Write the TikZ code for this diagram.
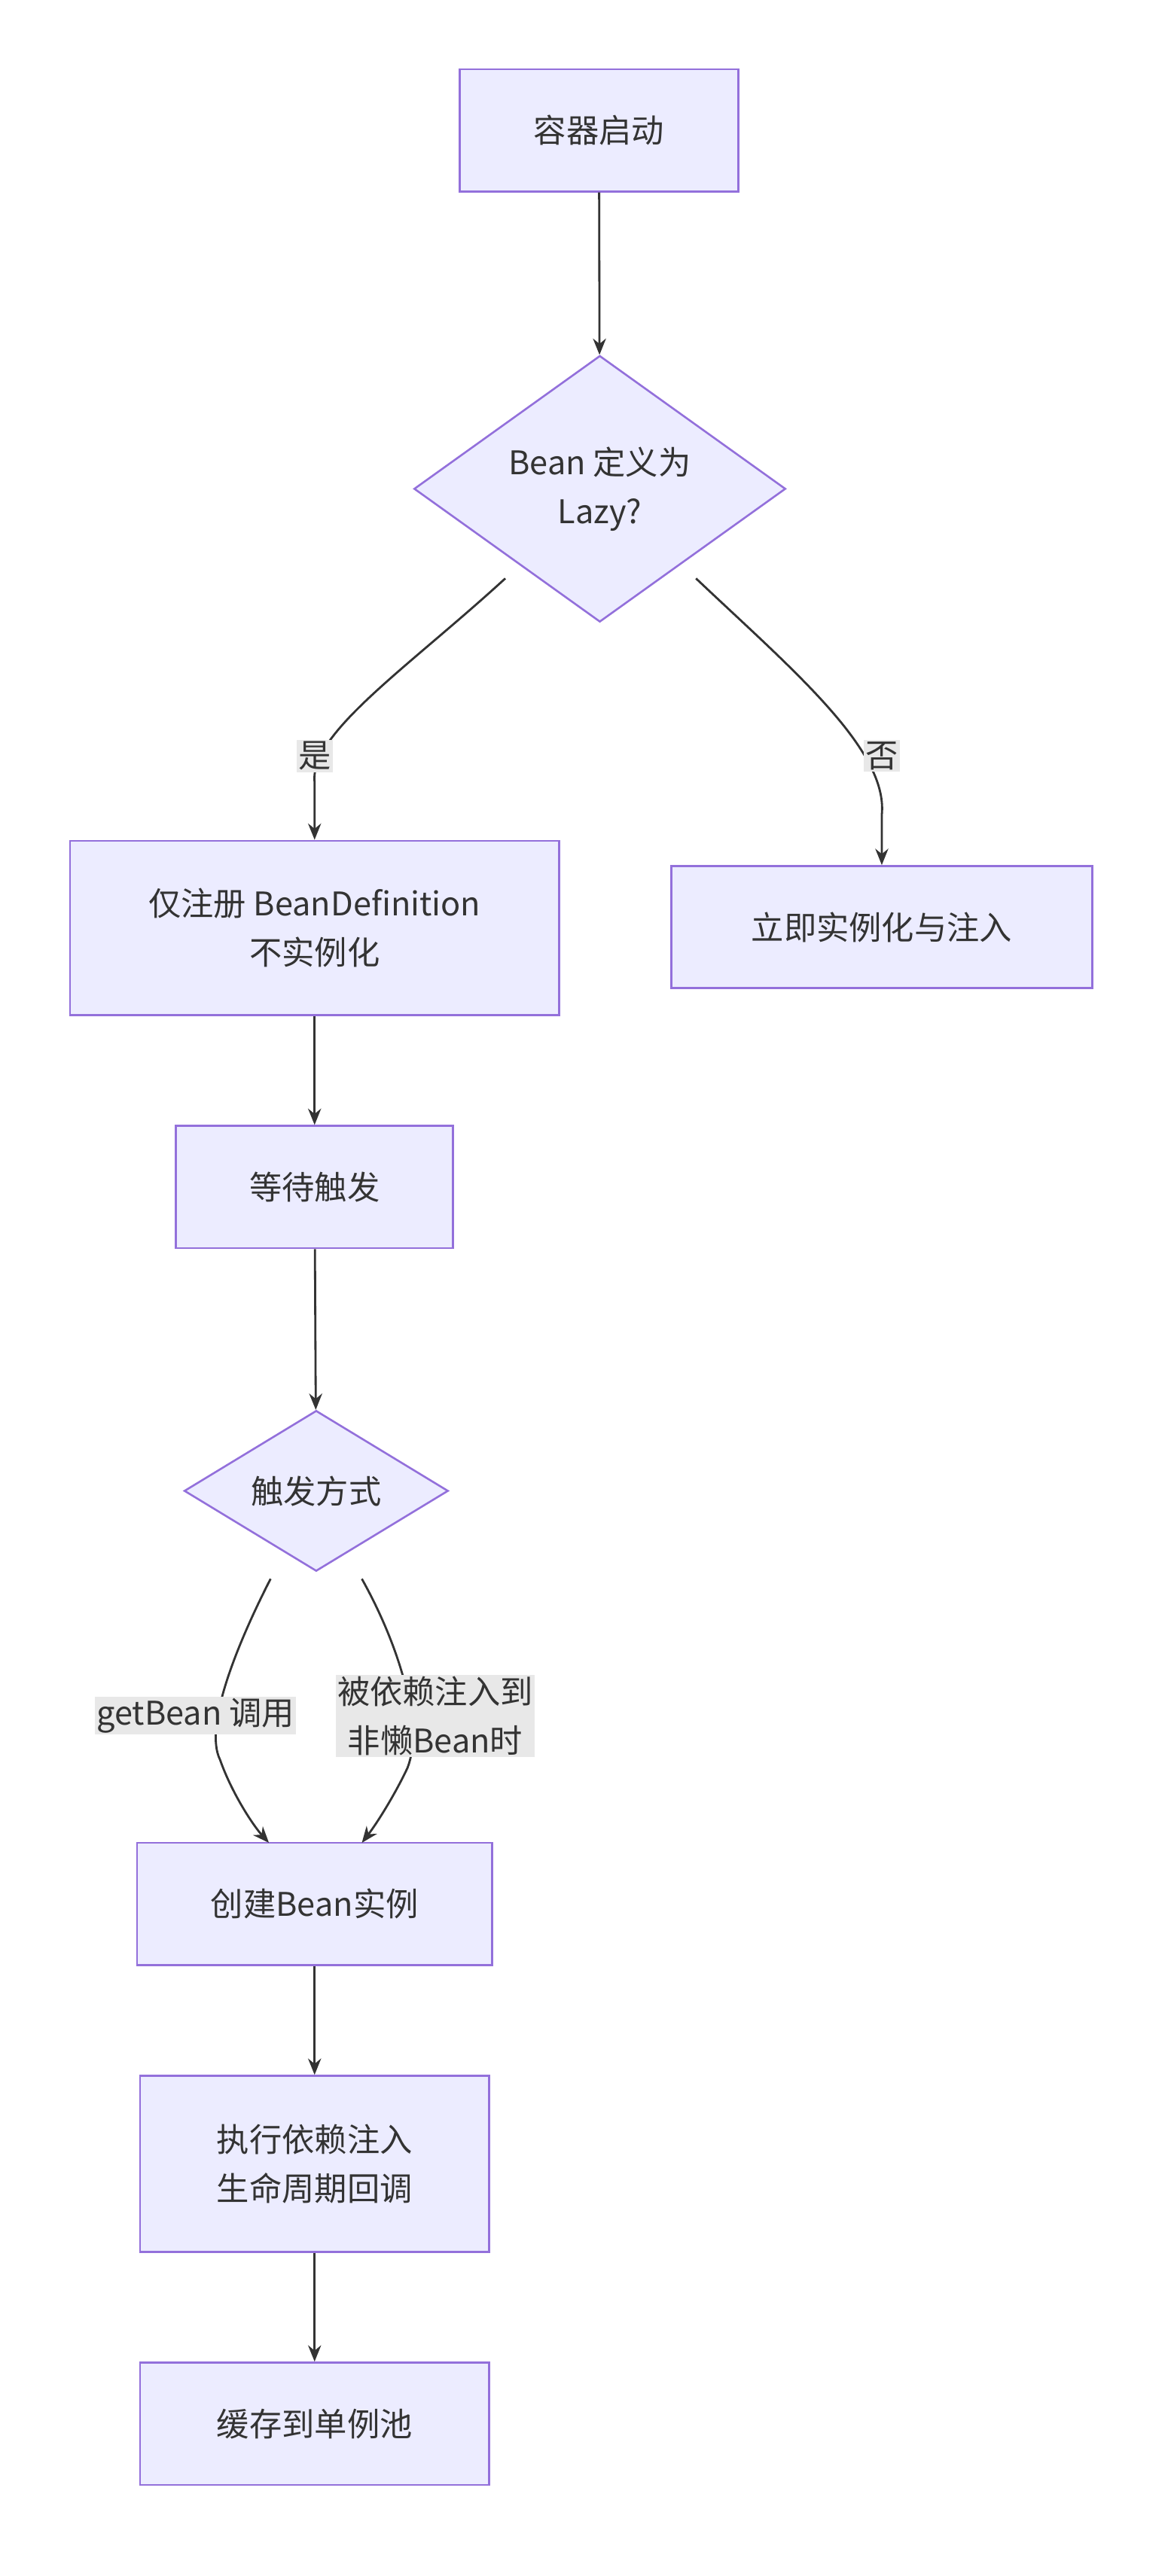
\documentclass[tikz,border=0pt]{standalone}
\usepackage{fontspec}
\setmainfont{Noto Sans CJK SC}
\usetikzlibrary{shapes.geometric,arrows.meta}
\definecolor{nfill}{HTML}{ECECFF}
\definecolor{nline}{HTML}{9370DB}
\definecolor{txt}{HTML}{333333}
\definecolor{lbg}{HTML}{E8E8E8}
\begin{document}
\begin{tikzpicture}[x=1pt,y=-1pt,
  every node/.style={font=\fontsize{20}{30}\selectfont,text=txt},
  box/.style={draw=nline,fill=nfill,line width=1.2pt,minimum height=75pt,align=center,inner sep=0pt},
  dia/.style={draw=nline,fill=nfill,line width=1.2pt,diamond,aspect=1,align=center,inner sep=0pt},
  arr/.style={draw=txt,line width=1.3pt,-{Stealth[length=10pt,width=8pt]}},
  lbl/.style={fill=lbg,inner sep=1pt,align=center}]
\useasboundingbox (0,0) rectangle (720,1581);
\node[box,minimum width=171pt] (start) at (367.5,80) {容器启动};
\node[dia,minimum width=228pt] (d1) at (368,300) {Bean 定义为\\Lazy?};
\node[box,minimum width=300pt,minimum height=107pt] (lazy) at (193,569.5) {仅注册 BeanDefinition\\不实例化};
\node[box,minimum width=258pt] (now) at (541,569) {立即实例化与注入};
\node[box,minimum width=170pt] (wait) at (193,728.5) {等待触发};
\node[dia,minimum width=162pt] (d2) at (194,915) {触发方式};
\node[box,minimum width=218pt] (create) at (193,1168.5) {创建Bean实例};
\node[box,minimum width=214pt,minimum height=108pt] (exec) at (193,1328) {执行依赖注入\\生命周期回调};
\node[box,minimum width=214pt] (cache) at (193,1487.5) {缓存到单例池};
\coordinate (c1) at (310,355);
\coordinate (c2) at (427,355);
\coordinate (c3) at (166,969);
\coordinate (c4) at (222,969);
\draw[arr] (start) -- (d1);
\draw[arr] (c1) .. controls (250,410) and (190,450) .. (193,480) -- (lazy.north);
\draw[arr] (c2) .. controls (485,410) and (545,460) .. (541,500) -- (now.north);
\node[lbl] (l1) at (193,464) {是};
\node[lbl] (l2) at (541,464) {否};
\draw[arr] (lazy) -- (wait);
\draw[arr] (wait) -- (d2);
\draw[arr] (c3) .. controls (145,1010) and (125,1060) .. (135,1080) .. controls (142,1100) and (155,1120) .. (165,1131);
\draw[arr] (c4) .. controls (245,1010) and (260,1060) .. (250,1085) .. controls (243,1100) and (232,1118) .. (222,1131);
\node[lbl] (l3) at (120,1053) {getBean 调用};
\node[lbl] (l4) at (267,1053) {被依赖注入到\\非懒Bean时};
\draw[arr] (create) -- (exec);
\draw[arr] (exec) -- (cache);
\end{tikzpicture}
\end{document}
